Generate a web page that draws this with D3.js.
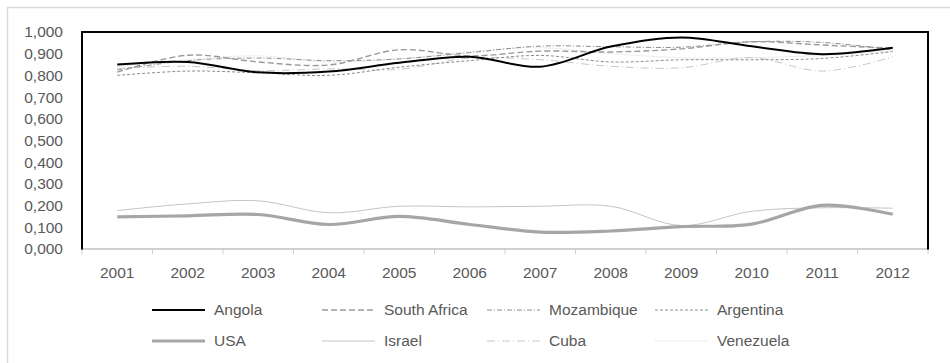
<!DOCTYPE html>
<html>
<head>
<meta charset="utf-8">
<script src="https://cdn.jsdelivr.net/npm/d3@7"></script>
<style>
  html, body { margin: 0; padding: 0; background: #fff; }
  svg { display: block; font-family: "Liberation Sans", Arial, sans-serif; }
</style>
</head>
<body>
<svg id="chart" width="950" height="363"></svg>
<script>
// Years on the category axis
const years = ["2001","2002","2003","2004","2005","2006","2007","2008","2009","2010","2011","2012"];

// Index values per country
const angola      = [0.850, 0.862, 0.814, 0.818, 0.858, 0.886, 0.840, 0.933, 0.975, 0.934, 0.898, 0.927];
const southAfrica = [0.815, 0.893, 0.862, 0.848, 0.918, 0.890, 0.912, 0.908, 0.922, 0.955, 0.940, 0.925];
const mozambique  = [0.825, 0.868, 0.880, 0.868, 0.876, 0.905, 0.935, 0.932, 0.930, 0.955, 0.952, 0.918];
const argentina   = [0.800, 0.820, 0.812, 0.800, 0.838, 0.868, 0.892, 0.862, 0.872, 0.872, 0.878, 0.910];
const usa         = [0.148, 0.153, 0.159, 0.113, 0.150, 0.113, 0.078, 0.083, 0.103, 0.115, 0.201, 0.160];
const israel      = [0.177, 0.208, 0.222, 0.167, 0.197, 0.194, 0.197, 0.197, 0.108, 0.174, 0.190, 0.188];
const cuba        = [0.832, 0.842, 0.822, 0.830, 0.828, 0.880, 0.872, 0.842, 0.835, 0.882, 0.820, 0.885];
const venezuela   = [0.842, 0.872, 0.890, 0.862, 0.876, 0.910, 0.928, 0.900, 0.882, 0.882, 0.892, 0.912];

// Y-axis tick labels
const yTicks = [0, 0.1, 0.2, 0.3, 0.4, 0.5, 0.6, 0.7, 0.8, 0.9, 1.0];
const yTickLabels = ["0,000","0,100","0,200","0,300","0,400","0,500","0,600","0,700","0,800","0,900","1,000"];

// Series styles, drawing order and legend order
const series = [
  { name: "Angola",       values: angola,      color: "#000000", width: 2.0, dash: null },
  { name: "South Africa", values: southAfrica, color: "#9a9a9a", width: 1.4, dash: "6,3" },
  { name: "Mozambique",   values: mozambique,  color: "#8c8c8c", width: 1.0, dash: "5,2,1,2" },
  { name: "Argentina",    values: argentina,   color: "#8c8c8c", width: 1.0, dash: "3,2" },
  { name: "USA",          values: usa,         color: "#a6a6a6", width: 3.2, dash: null },
  { name: "Israel",       values: israel,      color: "#c4c4c4", width: 1.0, dash: null },
  { name: "Cuba",         values: cuba,        color: "#c8c8c8", width: 1.0, dash: "8,3,1,3" },
  { name: "Venezuela",    values: venezuela,   color: "#dcdcdc", width: 1.0, dash: "1,1" }
];

const svg = d3.select("#chart");
const margin = { left: 82, top: 32, right: 22, bottom: 114 };
const W = 950, H = 363;
const plotW = W - margin.left - margin.right;   // 846
const plotH = H - margin.top - margin.bottom;   // 217
const fontSize = "15.5px";

// Outer chart area border
svg.append("rect")
  .attr("x", 7.5).attr("y", 7.5)
  .attr("width", 960).attr("height", 400)
  .attr("fill", "none").attr("stroke", "#d9d9d9").attr("stroke-width", 1.5);

const g = svg.append("g").attr("transform", `translate(${margin.left},${margin.top})`);

const x = d3.scaleBand().domain(years).range([0, plotW]).paddingInner(0).paddingOuter(0);
const y = d3.scaleLinear().domain([0, 1]).range([plotH, 0]);

// Plot frame
g.append("rect")
  .attr("x", 0).attr("y", 0)
  .attr("width", plotW).attr("height", plotH)
  .attr("fill", "none").attr("stroke", "#000").attr("stroke-width", 2);

// X axis with ticks at category boundaries
const xAxisG = g.append("g").attr("transform", `translate(0,${plotH})`);
xAxisG.append("line")
  .attr("x1", 1).attr("x2", plotW - 1).attr("y1", 0).attr("y2", 0)
  .attr("stroke", "#d0d0d0").attr("stroke-width", 2);
const bounds = years.map(d => x(d)).concat([plotW]);
xAxisG.selectAll("line.tick")
  .data(bounds).join("line")
  .attr("class", "tick")
  .attr("x1", d => d).attr("x2", d => d)
  .attr("y1", 0).attr("y2", 5.5)
  .attr("stroke", "#d0d0d0").attr("stroke-width", 1);
xAxisG.selectAll("text")
  .data(years).join("text")
  .attr("x", d => x(d) + x.bandwidth() / 2)
  .attr("y", 29)
  .attr("text-anchor", "middle")
  .attr("fill", "#595959")
  .attr("font-size", fontSize)
  .text(d => d);

// Y axis labels
const yAxis = d3.axisLeft(y)
  .tickValues(yTicks)
  .tickFormat((d, i) => yTickLabels[i])
  .tickSize(0)
  .tickPadding(19);
const yAxisG = g.append("g").call(yAxis);
yAxisG.select(".domain").remove();
yAxisG.selectAll("text")
  .attr("fill", "#595959")
  .attr("font-size", fontSize)
  .attr("font-family", "'Liberation Sans', Arial, sans-serif");

// Smoothed series lines
const line = d3.line()
  .x((d, i) => x(years[i]) + x.bandwidth() / 2)
  .y(d => y(d))
  .curve(d3.curveCatmullRom.alpha(0.5));

const drawOrder = [7, 6, 5, 4, 3, 2, 1, 0];
g.selectAll("path.series")
  .data(drawOrder.map(i => series[i]))
  .join("path")
  .attr("class", "series")
  .attr("d", d => line(d.values))
  .attr("fill", "none")
  .attr("stroke", d => d.color)
  .attr("stroke-width", d => d.width)
  .attr("stroke-dasharray", d => d.dash)
  .attr("stroke-linejoin", "round");

// Legend: two rows of four entries
const colX = [152, 322, 487, 655];
const rowY = [310, 341];
const legend = svg.append("g");
series.forEach((s, i) => {
  const cx = colX[i % 4], cy = rowY[Math.floor(i / 4)];
  legend.append("line")
    .attr("x1", cx).attr("x2", cx + 53)
    .attr("y1", cy).attr("y2", cy)
    .attr("stroke", s.color)
    .attr("stroke-width", s.width)
    .attr("stroke-dasharray", s.dash);
  legend.append("text")
    .attr("x", cx + 62)
    .attr("y", cy + 5)
    .attr("fill", "#595959")
    .attr("font-size", fontSize)
    .text(s.name);
});
</script>
</body>
</html>
